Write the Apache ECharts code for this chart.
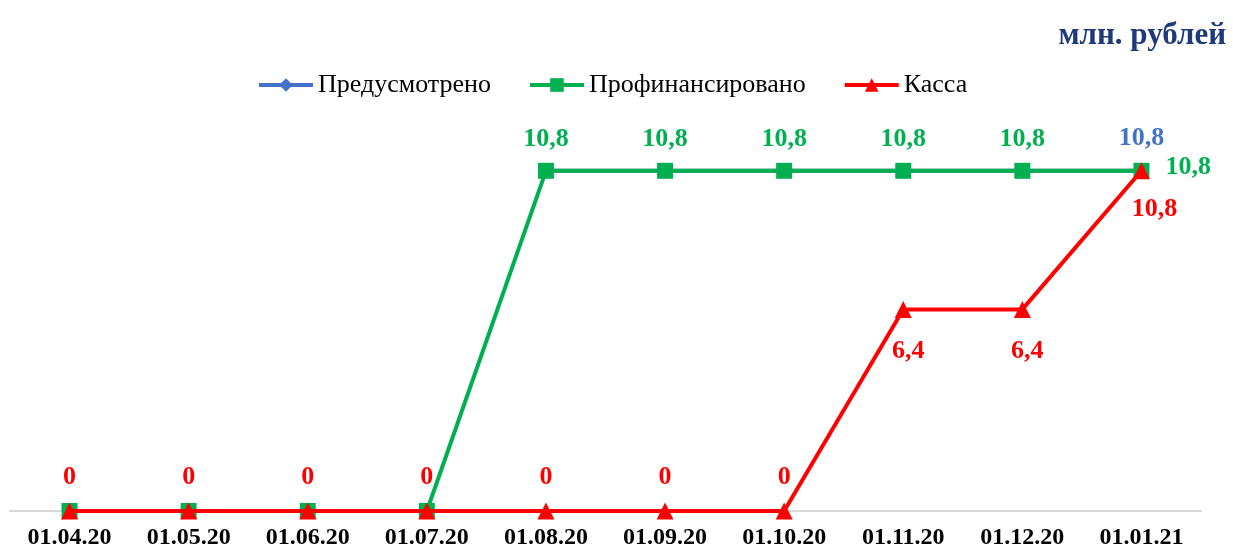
<!DOCTYPE html>
<html>
<head>
<meta charset="utf-8">
<script src="https://cdn.jsdelivr.net/npm/echarts@6/dist/echarts.min.js"></script>
<style>html,body{margin:0;padding:0;background:#fff}#c{width:1233px;height:550px}</style>
</head>
<body>
<div id="c"></div>
<script>
var categories = ['01.04.20','01.05.20','01.06.20','01.07.20','01.08.20','01.09.20','01.10.20','01.11.20','01.12.20','01.01.21'];
var planned = [null, null, null, null, 10.8, 10.8, 10.8, 10.8, 10.8, 10.8];
var financed = [0, 0, 0, 0, 10.8, 10.8, 10.8, 10.8, 10.8, 10.8];
var cash = [0, 0, 0, 0, 0, 0, 0, 6.4, 6.4, 10.8];

var FONT = '"Liberation Serif", "Times New Roman", serif';
function fmt(v){ return String(v).replace('.', ','); }
function lbl(color, pos, dist, extra){
  var o = {show:true, position:pos, distance:dist, color:color, fontFamily:FONT, fontWeight:'bold', fontSize:26,
    formatter:function(p){ return fmt(p.value); }};
  if (extra) for (var k in extra) o[k]=extra[k];
  return o;
}
var n = categories.length;
var plannedData = planned.map(function(v,i){
  return {value:v, label: i===n-1 ? lbl('#4472C4','top',12) : {show:false}};
});
var financedData = financed.map(function(v,i){
  var l;
  if (i===n-1) l = lbl('#00B050','right',16, {offset:[0,-4]});
  else if (v>0) l = lbl('#00B050','top',11);
  else l = {show:false};
  return {value:v, label:l};
});
var cashData = cash.map(function(v,i){
  var l;
  if (v===0) l = lbl('#FF0000','top',12);
  else if (i===n-1) l = lbl('#FF0000','bottom',17, {offset:[13,0]});
  else l = lbl('#FF0000','bottom',20, {offset:[5,0]});
  return {value:v, label:l};
});

var chart = echarts.init(document.getElementById('c'));
chart.setOption({
  animation:false,
  title:{text:'млн. рублей', right:2, top:15, textStyle:{fontFamily:FONT, fontWeight:'bold', fontSize:31, color:'#1F3A7A'}},
  legend:{top:67, left:252, itemWidth:54, itemHeight:17, itemGap:37,
    lineStyle:{width:4},
    textStyle:{fontFamily:FONT, fontSize:26, color:'#000'},
    data:['Предусмотрено','Профинансировано','Касса']},
  grid:{left:10, right:32, top:133, bottom:37, containLabel:false},
  xAxis:{type:'category', data:categories, boundaryGap:true,
    axisLine:{lineStyle:{color:'#D9D9D9', width:2}}, axisTick:{show:false},
    axisLabel:{fontFamily:FONT, fontWeight:'bold', fontSize:24, color:'#000', margin:15}},
  yAxis:{type:'value', min:0, max:12, show:false, splitLine:{show:false}},
  series:[
    {name:'Предусмотрено', type:'line', data:plannedData, symbol:'diamond', symbolSize:15,
      lineStyle:{color:'#4472C4', width:4}, itemStyle:{color:'#4472C4'}, z:2},
    {name:'Профинансировано', type:'line', data:financedData, symbol:'rect', symbolSize:16,
      lineStyle:{color:'#00B050', width:4}, itemStyle:{color:'#00B050'}, z:3},
    {name:'Касса', type:'line', data:cashData, symbol:'triangle', symbolSize:17,
      lineStyle:{color:'#FF0000', width:4}, itemStyle:{color:'#FF0000'}, z:4}
  ]
});
</script>
</body>
</html>
